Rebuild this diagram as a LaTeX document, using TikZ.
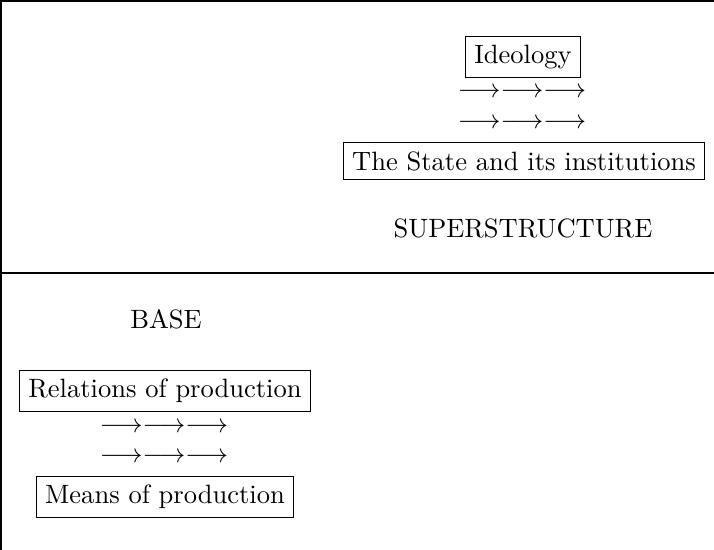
\documentclass[tikz,border=0pt]{standalone}
\begin{document}
\begin{tikzpicture}[x={(0.3846pt,0)},y={(0,-0.3846pt)},
  every node/.style={scale=1.02},
  boxed/.style={draw,line width=0.4pt,inner sep=3.33pt},
  plain/.style={inner sep=0pt},
  frameline/.style={line width=0.6pt}]
\useasboundingbox (0,0) rectangle (714,550);
\coordinate (tl) at (1,1);
\coordinate (tr) at (714,1);
\coordinate (bl) at (1,550);
\coordinate (ml) at (1,273);
\coordinate (mr) at (714,273);
\draw[frameline] (tr) -- (tl) -- (bl);
\draw[frameline] (ml) -- (mr);
% superstructure
\node[boxed] (ideo) at (523,57) {Ideology};
\node[plain] (a1) at (522,93) {$\longrightarrow\longrightarrow\longrightarrow$};
\node[plain] (a2) at (522,124) {$\longrightarrow\longrightarrow\longrightarrow$};
\node[boxed] (state) at (524,161) {The State and its institutions};
\node[plain] (sup) at (523,228) {SUPERSTRUCTURE};
% base
\node[plain] (base) at (166,319) {BASE};
\node[boxed] (rel) at (165,391) {Relations of production};
\node[plain] (b1) at (164,428) {$\longrightarrow\longrightarrow\longrightarrow$};
\node[plain] (b2) at (164,458) {$\longrightarrow\longrightarrow\longrightarrow$};
\node[boxed] (means) at (165,497) {Means of production};
\end{tikzpicture}
\end{document}
